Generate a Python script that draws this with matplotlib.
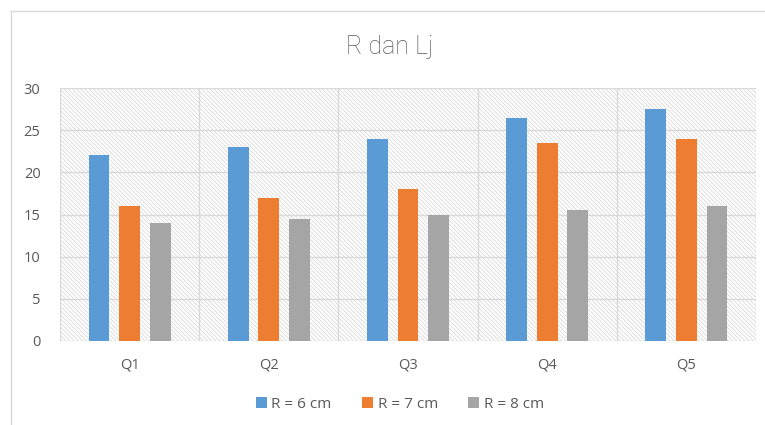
import matplotlib
matplotlib.use("Agg")
import matplotlib.pyplot as plt
import numpy as np
from matplotlib.patches import Rectangle
from matplotlib.lines import Line2D

categories = ["Q1", "Q2", "Q3", "Q4", "Q5"]
series_names = ["R = 6 cm", "R = 7 cm", "R = 8 cm"]
r6 = [22, 23, 24, 26.5, 27.5]
r7 = [16, 17, 18, 23.5, 24]
r8 = [14, 14.5, 15, 15.5, 16]
colors = ["#5B9BD5", "#ED7D31", "#A5A5A5"]
yticks = [0, 5, 10, 15, 20, 25, 30]

plt.rcParams['font.family'] = ['Open Sans', 'DejaVu Sans']
plt.rcParams['hatch.color'] = '#d9d9d9'
plt.rcParams['hatch.linewidth'] = 0.6

W, H = 765, 425
fig = plt.figure(figsize=(W/100, H/100), dpi=100)

# outer chart border
fig.add_artist(Line2D([11/W, 1], [1 - 11/H, 1 - 11/H], transform=fig.transFigure, color='#d9d9d9', lw=1))
fig.add_artist(Line2D([11/W, 11/W], [0, 1 - 11/H], transform=fig.transFigure, color='#d9d9d9', lw=1))

left, right, top, bottom = 60, 756, 88, 341
ax = fig.add_axes([left/W, 1 - bottom/H, (right-left)/W, (bottom-top)/H])

ax.add_patch(Rectangle((0, 0), 1, 1, transform=ax.transAxes, facecolor='white',
                       edgecolor='#d9d9d9', hatch='\\' * 8, lw=0, zorder=0))

n = len(categories)
x = np.arange(n)
bw = 0.15
step = 0.22
for i, (vals, c, name) in enumerate(zip([r6, r7, r8], colors, series_names)):
    ax.bar(x + (i - 1) * step, vals, width=bw, color=c, label=name, zorder=3)

ax.set_xlim(-0.5, n - 0.5)
ax.set_ylim(0, 30)
ax.set_yticks(yticks)
ax.set_xticks(x)
ax.set_xticklabels(categories)
for yv in yticks[1:]:
    ax.axhline(yv, color='#d9d9d9', lw=1, zorder=1)
for xv in np.arange(-0.5, n, 1.0):
    ax.axvline(xv, color='#d9d9d9', lw=1, zorder=1)
for s in ax.spines.values():
    s.set_visible(False)
ax.axhline(0, color='#d9d9d9', lw=1, zorder=2)
ax.tick_params(length=0, colors='#595959', labelsize=10.5)
ax.tick_params(axis='x', pad=12)
ax.tick_params(axis='y', pad=14)

fig.text(390/W, 1 - 47/H, "R dan Lj", ha='center', va='center', fontsize=18,
         color='#595959', family=['Roboto', 'DejaVu Sans'], fontweight='light')

handles, labels = ax.get_legend_handles_labels()
fig.legend(handles, labels, loc='center', bbox_to_anchor=(400/W, 1 - 404/H), ncol=3,
           frameon=False, fontsize=11, handlelength=0.7, handleheight=0.7,
           handletextpad=0.3, columnspacing=2.0, labelcolor='#595959')

fig.savefig("out.png", dpi=100)
